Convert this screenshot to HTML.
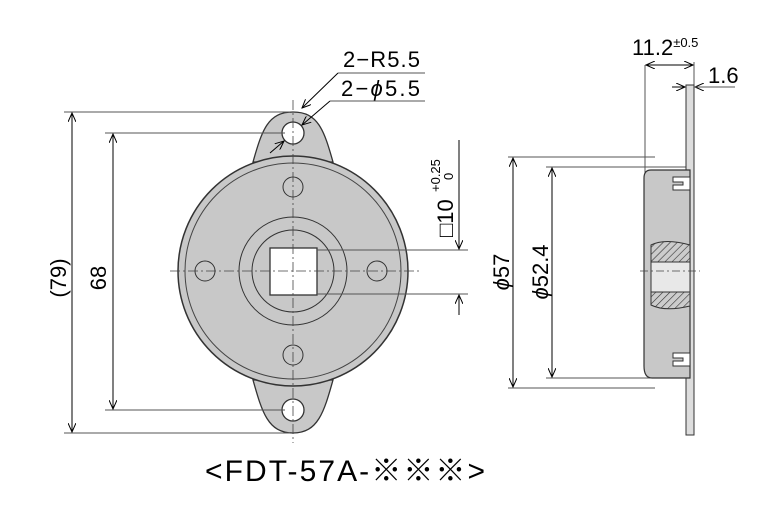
<!DOCTYPE html>
<html><head><meta charset="utf-8"><style>
html,body{margin:0;padding:0;background:#fff;}
svg{display:block;font-family:"Liberation Sans","Noto Sans CJK JP",sans-serif;}
</style></head><body>
<svg width="784" height="514" viewBox="0 0 784 514" xmlns="http://www.w3.org/2000/svg">
<defs>
<marker id="a" markerWidth="10" markerHeight="8" refX="9" refY="4" orient="auto" markerUnits="userSpaceOnUse"><path d="M0,0 L9,4 L0,8" fill="none" stroke="#000" stroke-width="1"/></marker>
<pattern id="h" width="5" height="5" patternUnits="userSpaceOnUse" patternTransform="rotate(45)"><rect width="5" height="5" fill="#ccc"/><line x1="0" y1="0" x2="0" y2="5" stroke="#333" stroke-width="1.2"/></pattern>
</defs>
<g stroke="#000" fill="none" stroke-width="1">
<path d="M253,162 C262,130 268,112 293,112 C318,112 324,130 333,162 Z" fill="#c8c8c8" stroke="#333" stroke-width="1.3"/>
<path d="M253,380 C262,412 268,433 293,433 C318,433 324,412 333,380 Z" fill="#c8c8c8" stroke="#333" stroke-width="1.3"/>
<circle cx="293" cy="271" r="115" fill="#c8c8c8" stroke="#333" stroke-width="1.5"/>
<circle cx="293" cy="271" r="108" stroke="#444"/>
<circle cx="293" cy="133" r="11" fill="#fff" stroke="#333" stroke-width="1.3"/>
<circle cx="293" cy="410" r="11" fill="#fff" stroke="#333" stroke-width="1.3"/>
<circle cx="293" cy="271" r="54" stroke="#333"/>
<circle cx="293" cy="271" r="41" stroke="#333"/>
<rect x="270" y="248" width="47" height="47" fill="#fff" stroke="#333" stroke-width="1.3"/>
<circle cx="293" cy="187" r="10" stroke="#333"/>
<circle cx="293" cy="355" r="10" stroke="#333"/>
<circle cx="205" cy="271" r="10" stroke="#333"/>
<circle cx="377" cy="271" r="10" stroke="#333"/>
<line x1="293" y1="100" x2="293" y2="443" stroke="#444" stroke-width="0.8" stroke-dasharray="10,3,2,3"/>
<line x1="170" y1="271" x2="420" y2="271" stroke="#444" stroke-width="0.8" stroke-dasharray="10,3,2,3"/>
<line x1="64" y1="112" x2="290" y2="112" stroke="#555"/>
<line x1="64" y1="433" x2="290" y2="433" stroke="#555"/>
<line x1="105" y1="133" x2="285" y2="133" stroke="#555"/>
<line x1="105" y1="410" x2="285" y2="410" stroke="#555"/>
<line x1="72" y1="272" x2="72" y2="113" marker-end="url(#a)"/>
<line x1="72" y1="272" x2="72" y2="432" marker-end="url(#a)"/>
<line x1="113" y1="272" x2="113" y2="134" marker-end="url(#a)"/>
<line x1="113" y1="272" x2="113" y2="409" marker-end="url(#a)"/>
<line x1="338" y1="73" x2="425" y2="73" stroke="#555"/>
<line x1="338" y1="73" x2="302" y2="108" marker-end="url(#a)"/>
<line x1="330" y1="101" x2="425" y2="101" stroke="#555"/>
<line x1="330" y1="101" x2="302" y2="125" marker-end="url(#a)"/>
<line x1="270" y1="153" x2="284" y2="141" marker-end="url(#a)"/>
<line x1="317" y1="250" x2="468" y2="250" stroke="#555"/>
<line x1="317" y1="294" x2="468" y2="294" stroke="#555"/>
<line x1="459" y1="140" x2="459" y2="249" marker-end="url(#a)"/>
<line x1="459" y1="315" x2="459" y2="295" marker-end="url(#a)"/>
<line x1="508" y1="157" x2="655" y2="157" stroke="#555"/>
<line x1="508" y1="388" x2="655" y2="388" stroke="#555"/>
<line x1="546" y1="167" x2="690" y2="167" stroke="#555"/>
<line x1="546" y1="378" x2="690" y2="378" stroke="#555"/>
<line x1="513" y1="272" x2="513" y2="158" marker-end="url(#a)"/>
<line x1="513" y1="272" x2="513" y2="387" marker-end="url(#a)"/>
<line x1="552" y1="272" x2="552" y2="168" marker-end="url(#a)"/>
<line x1="552" y1="272" x2="552" y2="377" marker-end="url(#a)"/>
<line x1="645" y1="65" x2="645" y2="175" stroke="#555"/>
<line x1="694" y1="62" x2="694" y2="85" stroke="#555"/>
<line x1="670" y1="65" x2="646" y2="65" marker-end="url(#a)"/>
<line x1="670" y1="65" x2="693" y2="65" marker-end="url(#a)"/>
<line x1="672" y1="87" x2="685" y2="87" marker-end="url(#a)"/>
<line x1="710" y1="87" x2="695" y2="87" marker-end="url(#a)"/>
<line x1="694" y1="87" x2="735" y2="87" stroke="#555"/>
<rect x="686" y="85" width="8" height="350" fill="#ddd" stroke="#333"/>
<path d="M651,170 Q644,170 644,178 L644,366 Q644,378 652,378 L690,378 L690,170 Z" fill="#c8c8c8" stroke="#333" stroke-width="1.2"/>
<path d="M651,245 Q665,238 690,245 L690,262 L651,262 Z" fill="url(#h)" stroke="#333"/>
<path d="M651,292 L690,292 L690,306 Q665,312 651,305 Z" fill="url(#h)" stroke="#333"/>
<rect x="651" y="262" width="39" height="30" fill="#e8e8e8" stroke="#333"/>
<path d="M673,177 L690,177 L690,190 L673,190 L673,185 L683,185 L683,182 L673,182 Z" fill="#fff" stroke="#333"/>
<path d="M673,353 L690,353 L690,366 L673,366 L673,361 L683,361 L683,358 L673,358 Z" fill="#fff" stroke="#333"/>
<line x1="640" y1="271" x2="700" y2="271" stroke="#444" stroke-width="0.8" stroke-dasharray="8,3,2,3"/>
</g>
<g fill="#000" font-size="22">
<text x="343" y="67" textLength="77">2−R5.5</text>
<text x="341" y="96" textLength="79">2−<tspan font-style="italic">ϕ</tspan>5.5</text>
<text x="632" y="55">11.2<tspan font-size="13" dy="-8">±0.5</tspan></text>
<text x="708" y="83">1.6</text>
<text transform="translate(66,278) rotate(-90)" text-anchor="middle">(79)</text>
<text transform="translate(106,278) rotate(-90)" text-anchor="middle">68</text>
<text transform="translate(509,272) rotate(-90)" text-anchor="middle"><tspan font-style="italic">ϕ</tspan>57</text>
<text transform="translate(548,272) rotate(-90)" text-anchor="middle"><tspan font-style="italic">ϕ</tspan>52.4</text>
<text transform="translate(453,237) rotate(-90)">□10</text>
<text transform="translate(440,192) rotate(-90)" font-size="13">+0.25</text>
<text transform="translate(453,180) rotate(-90)" font-size="13">0</text>
<text x="345" y="481" text-anchor="middle" font-size="30" textLength="280">&lt;FDT-57A-※※※&gt;</text>
</g>
</svg>
</body></html>
